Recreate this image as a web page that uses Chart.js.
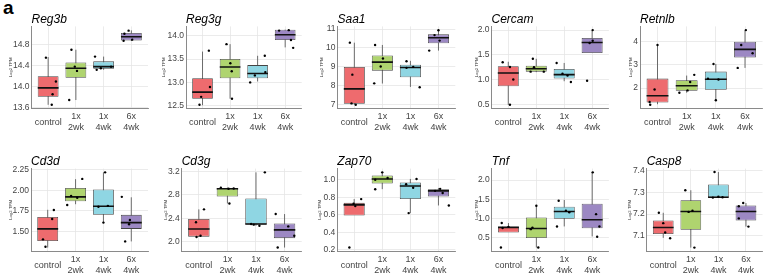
<!DOCTYPE html>
<html><head><meta charset="utf-8">
<script src="https://cdn.jsdelivr.net/npm/chart.js@4.4.1/dist/chart.umd.min.js"></script>
<style>
html,body{margin:0;padding:0;background:#fff;}
#wrap{position:relative;width:768px;height:276px;overflow:hidden;}
#wrap canvas{position:absolute;}
#panelLetter{position:absolute;left:3px;top:-3px;font:bold 19px "Liberation Sans",Arial,sans-serif;color:#000;}
</style></head><body>
<div id="wrap"><div id="panelLetter">a</div></div>
<script>
// ---------------- data ----------------
const genes = ['Reg3b','Reg3g','Saa1','Cercam','Retnlb','Cd3d','Cd3g','Zap70','Tnf','Casp8'];
const groups = ['control','1x\n2wk','1x\n4wk','6x\n4wk'];
const yAxisTitle = 'Log2 TPM';

// box statistics per gene, per group
const whiskerLow = [
  [13.66,13.75,14.32,14.865],[12.51,12.65,13.02,13.75],[7.0,8.12,7.94,9.86],[0.49,1.15,0.966,1.74],[1.305,1.80,1.475,2.87],
  [1.30,1.83,1.605,1.375],[2.08,2.65,2.27,1.90],[0.70,0.893,0.62,0.707],[0.75,0.24,0.79,0.53],[7.09,7.045,7.278,7.142]
];
const boxLow = [
  [13.81,14.17,14.34,14.875],[12.65,13.09,13.09,13.91],[7.05,8.80,8.45,10.25],[0.866,1.16,1.02,1.537],[1.376,1.886,1.93,3.32],
  [1.379,1.867,1.70,1.528],[2.085,2.77,2.294,2.06],[0.592,0.958,0.78,0.81],[0.634,0.486,0.99,0.74],[7.108,7.127,7.278,7.17]
];
const boxMedian = [
  [13.98,14.35,14.38,14.945],[12.79,13.33,13.19,14.02],[7.84,9.25,8.97,10.54],[1.134,1.22,1.10,1.75],[1.67,2.10,2.38,3.67],
  [1.528,1.92,1.806,1.605],[2.215,2.90,2.30,2.20],[0.714,1.01,0.93,0.874],[0.765,0.738,1.18,0.965],[7.138,7.212,7.278,7.212]
];
const boxHigh = [
  [14.20,14.46,14.48,15.015],[13.09,13.50,13.37,14.13],[8.99,9.60,9.11,10.72],[1.27,1.28,1.215,1.84],[2.41,2.34,2.71,4.0],
  [1.673,2.03,2.01,1.70],[2.385,2.905,2.736,2.31],[0.737,1.05,0.97,0.893],[0.78,1.026,1.305,1.38],[7.17,7.264,7.337,7.24]
];
const whiskerHigh = [
  [14.56,14.70,14.57,15.065],[13.66,13.82,13.57,14.13],[10.28,10.16,9.32,10.94],[1.36,1.42,1.336,2.0],[3.89,2.54,3.04,4.5],
  [1.762,2.137,2.218,1.915],[2.55,2.92,3.18,2.47],[0.78,1.085,1.01,0.905],[0.878,1.33,1.48,2.2],[7.206,7.31,7.394,7.251]
];
// individual samples (4 per group) and their horizontal jitter
const samplePoints = [
  [[14.55,14.10,13.86,13.66],[14.70,14.38,14.30,13.75],[14.57,14.38,14.35,14.32],[15.06,15.00,14.89,14.87]],
  [[13.68,12.90,12.69,12.52],[13.82,13.41,13.24,12.65],[13.57,13.22,13.15,13.00],[14.12,14.11,13.91,13.74]],
  [[10.28,8.59,7.07,7.0],[10.16,9.44,9.02,8.13],[9.30,9.00,8.95,7.92],[10.94,10.68,10.39,9.86]],
  [[1.35,1.255,1.0,0.49],[1.42,1.25,1.16,1.16],[1.335,1.12,1.08,0.95],[2.0,1.785,1.74,0.975]],
  [[3.86,1.94,1.40,1.28],[2.57,2.26,1.90,1.80],[3.04,2.40,2.37,1.475],[4.5,3.86,3.5,2.87]],
  [[1.76,1.65,1.40,1.31],[2.14,1.93,1.91,1.82],[2.22,1.81,1.80,1.605],[1.92,1.637,1.585,1.375]],
  [[2.55,2.33,2.10,2.08],[2.92,2.905,2.90,2.65],[3.18,2.30,2.29,2.27],[2.47,2.26,2.10,1.90]],
  [[0.78,0.726,0.70,0.227],[1.085,1.02,1.00,0.893],[1.01,0.95,0.91,0.62],[0.897,0.874,0.85,0.707]],
  [[0.88,0.78,0.75,0.24],[1.33,0.76,0.72,0.24],[1.46,1.20,1.16,0.79],[2.2,1.11,0.79,0.52]],
  [[7.206,7.158,7.115,7.088],[7.31,7.215,7.21,7.045],[7.394,7.28,7.278,7.276],[7.251,7.236,7.18,7.142]]
];
const sampleJitter = [
  [[-0.08,0.28,0.16,0.13],[-0.16,-0.04,0.04,-0.24],[-0.31,0.27,-0.10,-0.25],[-0.10,-0.25,0.03,-0.28]],
  [[0.23,0.27,-0.05,-0.11],[-0.13,0.01,0.06,0.07],[0.26,0.28,-0.10,-0.27],[0.13,-0.22,0.21,0.29]],
  [[-0.16,-0.07,-0.10,0.05],[-0.26,0.02,-0.06,-0.29],[-0.14,0.10,-0.14,0.33],[0.0,-0.14,0.04,-0.33]],
  [[-0.20,0.06,0.18,0.06],[-0.12,-0.08,-0.20,0.27],[-0.27,-0.06,0.12,0.24],[0.02,0.02,-0.09,-0.18]],
  [[0.0,-0.10,-0.27,-0.25],[0.26,0.12,0.03,-0.25],[-0.08,-0.27,0.09,0.0],[0.03,-0.13,0.26,-0.25]],
  [[0.22,0.16,-0.17,-0.08],[0.24,-0.16,0.06,-0.30],[0.06,0.16,-0.18,0.0],[-0.34,-0.05,-0.08,-0.22]],
  [[0.18,-0.10,0.06,-0.08],[-0.23,0.22,0.04,0.07],[0.31,-0.17,-0.08,0.12],[-0.31,0.13,0.34,-0.24]],
  [[0.25,-0.02,0.04,-0.17],[0.0,0.19,-0.25,-0.25],[0.22,-0.15,0.10,-0.06],[0.06,-0.12,0.15,0.37]],
  [[-0.24,0.0,-0.21,-0.27],[0.0,-0.14,-0.20,0.07],[-0.20,0.06,0.18,-0.26],[0.02,0.14,0.26,0.18]],
  [[-0.16,0.0,0.07,0.25],[-0.20,0.06,-0.08,0.13],[-0.14,0.0,0.15,-0.20],[-0.10,-0.26,-0.26,0.09]]
];
// y axes
const yRange = [
  [13.59,15.14],[12.44,14.20],[6.80,11.14],[0.415,2.075],[1.12,4.66],
  [1.254,2.266],[1.836,3.244],[0.184,1.128],[0.142,2.298],[7.028,7.41]
];
const yTicks = [
  [13.6,14.0,14.4,14.8],[12.5,13.0,13.5,14.0],[7,8,9,10,11],[0.5,1.0,1.5,2.0],[2,3,4],
  [1.50,1.75,2.00,2.25],[2.0,2.4,2.8,3.2],[0.2,0.4,0.6,0.8,1.0],[0.5,1.0,1.5,2.0],[7.1,7.2,7.3,7.4]
];
const yTickLabels = [
  ['13.6','14.0','14.4','14.8'],['12.5','13.0','13.5','14.0'],['7','8','9','10','11'],['0.5','1.0','1.5','2.0'],['2','3','4'],
  ['1.50','1.75','2.00','2.25'],['2.0','2.4','2.8','3.2'],['0.2','0.4','0.6','0.8','1.0'],['0.5','1.0','1.5','2.0'],['7.1','7.2','7.3','7.4']
];

// ---------------- layout / style ----------------
const FONT = '"Liberation Sans", Arial, Helvetica, sans-serif';
const groupColors = ['#EE6B6E','#AFD46F','#8FD6E3','#9C88C3'];
const GRID = '#E6E6E6';
const AXIS = '#8A8A8A';
const BOX_WIDTH = 0.75;
const canvasLeft = [0,154,307,461,614];
const CANVAS_W = 154, CANVAS_H = 138;
const plotLeft = [31.5,186,337.5,491.5,640, 31,181.7,337.3,491.7,646.7];
const plotRight = [148,301.7,455.3,608.9,762.5];
const yTitleCenter = [11,163.5,322,476.5,630.5, 11,165.5,320,477,629.5];
const titlePad = [{top:12,bottom:0},{top:16.2,bottom:0}];
const xAxisHeight = [29.5,24.7];

const wrap = document.getElementById('wrap');
const cats = [0,1,2,3];
const yTitleFont = {family:FONT,size:4.3,lineHeight:1.2};

genes.forEach((gene,p)=>{
  const row = Math.floor(p/5), col = p%5;
  const cl = canvasLeft[col];
  const cv = document.createElement('canvas');
  cv.width = CANVAS_W; cv.height = CANVAS_H;
  cv.style.left = cl+'px'; cv.style.top = (row*CANVAS_H)+'px';
  wrap.appendChild(cv);
  const yAxisW = plotLeft[p]-cl;
  const rightPad = cl+CANVAS_W-plotRight[col];
  const yTitlePadTop = yTitleCenter[p]-cl-yTitleFont.size*yTitleFont.lineHeight/2;

  const whiskers=[], medians=[], boxes=[], dots=[];
  cats.forEach(g=>{
    whiskers.push({x:g,y:whiskerLow[p][g]},{x:g,y:whiskerHigh[p][g]},{x:g,y:null});
    medians.push({x:g-BOX_WIDTH/2,y:boxMedian[p][g]},{x:g+BOX_WIDTH/2,y:boxMedian[p][g]},{x:g,y:null});
    boxes.push({x:g,y:[boxLow[p][g],boxHigh[p][g]]});
    samplePoints[p][g].forEach((v,k)=>dots.push({x:g+sampleJitter[p][g][k],y:v}));
  });

  new Chart(cv,{
    type:'bar',
    data:{datasets:[
      {type:'line',data:whiskers,borderColor:'#4a4a4a',borderWidth:0.8,pointRadius:0,spanGaps:false,order:4},
      {type:'bar',data:boxes,backgroundColor:groupColors,borderColor:'#444',borderWidth:0.8,borderSkipped:false,
        categoryPercentage:1,barPercentage:BOX_WIDTH,order:3},
      {type:'line',data:medians,borderColor:'#111',borderWidth:1.6,pointRadius:0,spanGaps:false,order:2},
      {type:'scatter',data:dots,backgroundColor:'#000',borderWidth:0,pointRadius:1.2,order:1}
    ]},
    options:{
      responsive:false, animation:false, devicePixelRatio:1,
      layout:{padding:{left:0,right:rightPad,top:0,bottom:0}},
      events:[],
      plugins:{
        legend:{display:false}, tooltip:{enabled:false},
        title:{display:true,text:gene,align:'start',fullSize:false,color:'#000',
          font:{family:FONT,size:12,style:'italic',weight:'normal',lineHeight:1.2},padding:titlePad[row]}
      },
      scales:{
        x:{type:'linear',min:-0.6,max:3.6,offset:false,
          afterBuildTicks:s=>{s.ticks=cats.map(v=>({value:v}));},
          afterFit:s=>{s.height=xAxisHeight[row];},
          ticks:{callback:v=>groups[v].split('\n'),color:'#444',autoSkip:false,maxRotation:0,minRotation:0,
            font:{family:FONT,size:9,lineHeight:1.2},padding:8.5,crossAlign:'center'},
          grid:{color:GRID,lineWidth:0.8,drawTicks:false,offset:false},
          border:{display:true,color:AXIS,width:1}},
        y:{type:'linear',min:yRange[p][0],max:yRange[p][1],beginAtZero:false,
          afterBuildTicks:s=>{s.ticks=yTicks[p].map(v=>({value:v}));},
          afterFit:s=>{s.width=yAxisW;},
          ticks:{callback:(v,i)=>yTickLabels[p][i],color:'#444',font:{family:FONT,size:8.5},padding:2},
          grid:{color:GRID,lineWidth:0.8,drawTicks:false},
          border:{display:true,color:AXIS,width:1},
          title:{display:true,text:yAxisTitle,color:'#333',font:yTitleFont,padding:{top:yTitlePadTop,bottom:0}}}
      }
    }
  });
});
</script>
</body></html>
